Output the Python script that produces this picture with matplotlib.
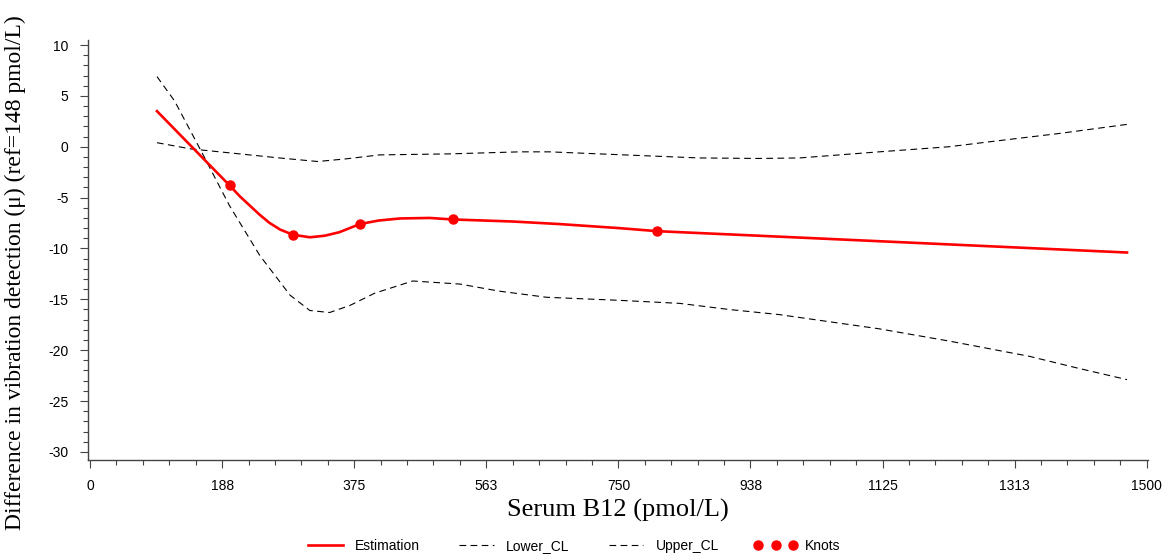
import numpy as np
import matplotlib.pyplot as plt
from matplotlib.ticker import MultipleLocator, FixedLocator

plt.rcParams["axes.unicode_minus"] = False

# curve values
est_x = [95, 198, 213, 227, 241, 255, 270, 288, 312, 333, 354, 383, 410, 440, 482, 515, 600, 666, 751, 805, 950, 1472]
est_y = [3.5, -3.8, -4.9, -5.8, -6.7, -7.5, -8.15, -8.65, -8.9, -8.75, -8.4, -7.6, -7.25, -7.05, -7.0, -7.15, -7.35, -7.6, -8.0, -8.3, -8.75, -10.4]

upper_x = [95, 142, 198, 269, 323, 362, 411, 510, 610, 652, 723, 865, 950, 1007, 1120, 1219, 1290, 1375, 1472]
upper_y = [0.4, -0.2, -0.6, -1.1, -1.45, -1.2, -0.8, -0.7, -0.5, -0.5, -0.7, -1.1, -1.15, -1.1, -0.5, 0.0, 0.6, 1.3, 2.2]

lower_x = [95, 120, 156, 198, 241, 284, 312, 340, 369, 404, 458, 525, 581, 648, 751, 837, 907, 978, 1120, 1219, 1333, 1404, 1472]
lower_y = [6.9, 4.5, -0.2, -5.8, -10.7, -14.6, -16.1, -16.3, -15.6, -14.4, -13.2, -13.5, -14.2, -14.8, -15.1, -15.4, -16.0, -16.5, -17.9, -19.1, -20.6, -21.8, -22.9]

knot_x = [198, 288, 383, 515, 805]
knot_y = [-3.8, -8.65, -7.6, -7.15, -8.3]

xticks = [0, 187.5, 375, 562.5, 750, 937.5, 1125, 1312.5, 1500]
xtick_labels = ["0", "188", "375", "563", "750", "938", "1125", "1313", "1500"]
yticks = [10, 5, 0, -5, -10, -15, -20, -25, -30]

fig = plt.figure(figsize=(11.68, 5.6), dpi=100)
ax = fig.add_axes([0.0753, 0.1786, 0.9077, 0.75])

dash = (0, (6, 4))
ax.plot(est_x, est_y, color="red", lw=1.9, label="Estimation", zorder=3)
ax.plot(lower_x, lower_y, color="black", lw=0.8, linestyle=dash, label="Lower_CL")
ax.plot(upper_x, upper_y, color="black", lw=0.8, linestyle=dash, label="Upper_CL")
ax.plot(knot_x, knot_y, "o", color="red", ms=6.5, label="Knots", zorder=4)

ax.set_xlim(-3, 1502)
ax.set_ylim(-30.8, 10.5)

ax.xaxis.set_major_locator(FixedLocator(xticks))
ax.set_xticklabels(xtick_labels)
ax.xaxis.set_minor_locator(MultipleLocator(37.5))
ax.yaxis.set_major_locator(FixedLocator(yticks))
ax.yaxis.set_minor_locator(MultipleLocator(1))

for s in ["top", "right"]:
    ax.spines[s].set_visible(False)
for s in ["left", "bottom"]:
    ax.spines[s].set_color("#444444")
    ax.spines[s].set_linewidth(1.0)

ax.tick_params(which="major", direction="out", length=6, width=0.8, color="#444444",
               labelsize=10, pad=8)
ax.tick_params(which="minor", direction="out", length=3.5, width=0.8, color="#444444")
for lab in ax.get_xticklabels() + ax.get_yticklabels():
    lab.set_fontfamily("Liberation Sans")

ax.set_xlabel("Serum B12 (pmol/L)", fontfamily="Liberation Serif", fontsize=19, labelpad=4)
ax.set_ylabel("Difference in vibration detection (\u03bc) (ref=148 pmol/L)",
              fontfamily="Liberation Serif", fontsize=17)
ax.yaxis.set_label_coords(-0.058, 0.445)

fig.legend(loc="center", bbox_to_anchor=(0.49, 0.025), ncol=4, frameon=False,
           numpoints=3, handlelength=3.1, handletextpad=0.6, columnspacing=2.5,
           prop={"family": "Liberation Sans", "size": 10})

plt.savefig("out.png", dpi=100)
